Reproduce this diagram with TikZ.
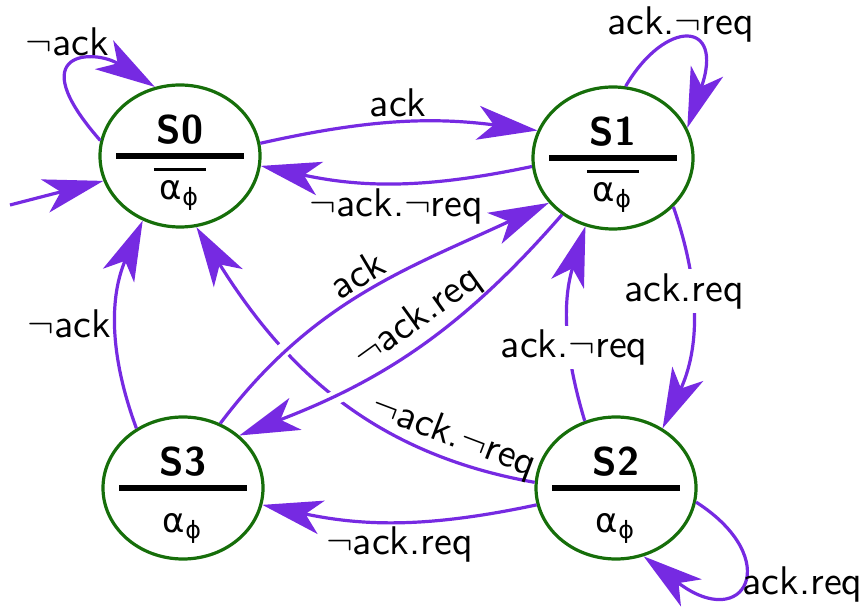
\documentclass[tikz,border=0pt]{standalone}
\usepackage{fontspec}
\usetikzlibrary{arrows.meta, shapes.geometric}

\newfontfamily\greekfont[Scale=0.85]{DejaVu Sans}
\definecolor{stategreen}{RGB}{22,110,10}
\definecolor{transviolet}{RGB}{118,42,226}

% output of a state, plain and negated
\newcommand{\alphaphi}{{\greekfont α\textsubscript{ϕ}}}
\newcommand{\nalphaphi}{\vbox{\hrule height 0.7pt\kern 2.5pt\hbox{\kern 1.5pt\alphaphi\kern 1.5pt}}}
% name above the bar, output below it (zero width, so the ellipse keeps its size)
\newcommand{\statetext}[2]{\makebox[0pt]{%
  \rlap{\makebox[32pt]{\raisebox{3.2pt}[0pt][0pt]{\bfseries #1}}}%
  \rlap{\makebox[32pt]{\raisebox{-11pt}[0pt][0pt]{#2}}}%
  \rule[-0.75pt]{32pt}{1.5pt}}}

\begin{document}
\begin{tikzpicture}[x=0.25pt, y=0.25pt, font=\sffamily,
    >={Stealth[length=15pt, width=8.5pt, inset=4pt]}]

  % Define styles
  \tikzstyle{stateshape} = [ellipse, draw=stategreen, line width=0.8pt, minimum width=40pt, minimum height=35.5pt, inner sep=0pt]
  \tikzstyle{trans} = [->, draw=transviolet, line width=0.8pt]
  \tikzstyle{lbl} = [inner sep=1pt]
  \tikzstyle{online} = [fill=white]
  \tikzstyle{over} = [preaction={draw=white, line width=3.5pt, -, shorten <=6pt, shorten >=18pt}]

  \useasboundingbox (0,0) rectangle (864,609);

  % States
  \node[stateshape] (s0) at (180,453) {\statetext{S0}{\nalphaphi}};
  \node[stateshape] (s1) at (613,451) {\statetext{S1}{\nalphaphi}};
  \node[stateshape] (s2) at (616,121) {\statetext{S2}{\alphaphi}};
  \node[stateshape] (s3) at (183,121) {\statetext{S3}{\alphaphi}};

  % Initial arrow
  \coordinate (init) at (10,404);
  \draw[trans] (init) -- (s0.198);

  % S0
  \draw[trans] (s0.169) .. controls (20,560) and (95,560) .. (s0.110)
    node[lbl, anchor=base, pos=0.4, yshift=4pt] (l00) {$\neg$ack};
  \draw[trans] (s0.9) to[bend left=10] node[lbl, above] (l01) {ack} (s1.160);

  % S1
  \draw[trans] (s1.186) to[bend left=12] node[lbl, below] (l10) {$\neg$ack.$\neg$req} (s0.353);
  \draw[trans] (s1.80) .. controls (665,590) and (725,590) .. (s1.22)
    node[lbl, anchor=base, pos=0.45, yshift=1.5pt] (l11) {ack.$\neg$req};
  \draw[trans] (s1.321) to[bend left=22]
    node[lbl, online, pos=0.37, xshift=-2pt] (l12) {ack.req} (s2.52);

  % S2
  \draw[trans] (s2.115) to[bend left=17]
    node[lbl, online, pos=0.37, xshift=1.2pt] (l21) {ack.$\neg$req} (s1.248);
  \draw[trans] (s2.350) .. controls (785,50) and (745,-25) .. (s2.292)
    node[lbl, right, pos=0.55] (l22) {ack.req};
  \draw[trans] (s2.192) to[bend left=12] node[lbl, below] (l23) {$\neg$ack.req} (s3.348);
  \draw[trans] (s2.176) to[out=170, in=-58]
    node[lbl, sloped, above, pos=0.2] (l20) {$\neg$ack.$\neg$req} (s0.283);

  % S3
  \draw[trans] (s3.128) to[bend left=22] node[lbl, left] (l30) {$\neg$ack} (s0.240);
  \draw[trans, over] (s3.60) to[out=53, in=205] node[lbl, sloped, above] (l31) {ack} (s1.215);
  \draw[trans, over] (s1.228) to[out=229, in=21] node[lbl, sloped, above, pos=0.45] (l13) {$\neg$ack.req} (s3.43);

\end{tikzpicture}
\end{document}
